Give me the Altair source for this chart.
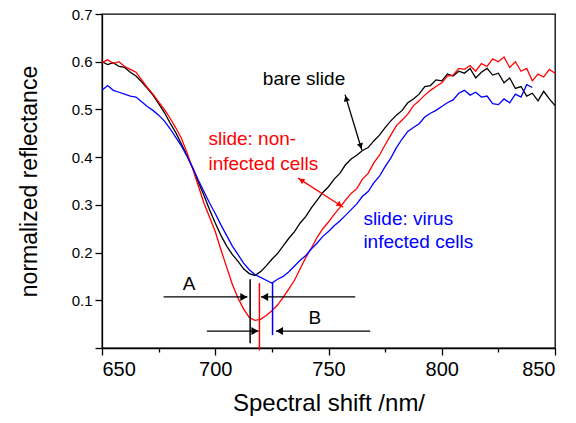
import altair as alt
import pandas as pd

# ---- spectra (every 2.5 nm) ----
wavelength = [650 + 2.5 * i for i in range(81)]
bare_slide = [0.600, 0.594, 0.598, 0.590, 0.588, 0.578, 0.570, 0.558, 0.544, 0.530,
              0.512, 0.494, 0.472, 0.452, 0.428, 0.404, 0.378, 0.348, 0.320, 0.290,
              0.262, 0.236, 0.214, 0.196, 0.182, 0.166, 0.156, 0.152, 0.160, 0.172,
              0.186, 0.198, 0.214, 0.230, 0.244, 0.262, 0.276, 0.294, 0.310, 0.326,
              0.338, 0.354, 0.366, 0.384, 0.396, 0.404, 0.414, 0.420, 0.434, 0.446,
              0.462, 0.476, 0.488, 0.498, 0.514, 0.522, 0.532, 0.548, 0.550, 0.562,
              0.560, 0.574, 0.570, 0.580, 0.576, 0.586, 0.566, 0.578, 0.586, 0.572,
              0.576, 0.556, 0.566, 0.544, 0.548, 0.528, 0.534, 0.518, 0.538, 0.522, 0.508]
non_infected = [0.598, 0.604, 0.596, 0.600, 0.590, 0.584, 0.578, 0.562, 0.546, 0.532,
                0.516, 0.500, 0.482, 0.462, 0.440, 0.410, 0.376, 0.340, 0.304, 0.274,
                0.244, 0.206, 0.170, 0.134, 0.105, 0.082, 0.064, 0.058, 0.060, 0.068,
                0.078, 0.090, 0.106, 0.124, 0.142, 0.166, 0.190, 0.210, 0.232, 0.250,
                0.264, 0.280, 0.294, 0.310, 0.324, 0.334, 0.354, 0.366, 0.388, 0.404,
                0.426, 0.446, 0.466, 0.478, 0.490, 0.508, 0.518, 0.530, 0.540, 0.548,
                0.556, 0.570, 0.572, 0.586, 0.584, 0.592, 0.580, 0.596, 0.590, 0.606,
                0.600, 0.610, 0.588, 0.600, 0.580, 0.586, 0.560, 0.574, 0.568, 0.584, 0.576]
virus_wl = [650 + 2.5 * i for i in range(77)]
virus_infected = [0.540, 0.550, 0.540, 0.536, 0.532, 0.528, 0.526, 0.516, 0.506, 0.498,
                  0.488, 0.476, 0.460, 0.442, 0.424, 0.402, 0.378, 0.352, 0.328, 0.304,
                  0.282, 0.258, 0.236, 0.214, 0.196, 0.178, 0.164, 0.154, 0.148, 0.142,
                  0.136, 0.144, 0.150, 0.160, 0.172, 0.184, 0.194, 0.208, 0.220, 0.234,
                  0.244, 0.256, 0.266, 0.278, 0.290, 0.302, 0.318, 0.328, 0.346, 0.360,
                  0.380, 0.398, 0.420, 0.438, 0.454, 0.462, 0.470, 0.484, 0.492, 0.498,
                  0.506, 0.514, 0.520, 0.534, 0.540, 0.530, 0.536, 0.526, 0.528, 0.512,
                  0.510, 0.522, 0.514, 0.532, 0.526, 0.552, 0.546]

series_names = ["bare slide", "non-infected", "virus infected"]
series_colors = ["#000000", "#ff0000", "#0000ff"]

# ---- annotation data (data units) ----
vline_x = [715.4, 719.5, 725.3]
vline_y1 = [0.010, -0.005, 0.027]
vline_y2 = [0.144, 0.136, 0.138]
vline_col = ["#000000", "#ff0000", "#0000ff"]

shaft_x1 = [677.2, 761.8, 696.3, 768.4, 757.3, 736.6]
shaft_x2 = [714.2, 720.2, 719.1, 726.8, 764.7, 756.5]
shaft_y1 = [0.107, 0.107, 0.0355, 0.0355, 0.531, 0.356]
shaft_y2 = [0.107, 0.107, 0.0355, 0.0355, 0.415, 0.295]
shaft_col = ["#000000", "#000000", "#000000", "#000000", "#000000", "#ff0000"]

head_x = [712.6, 721.8, 717.5, 728.4, 757.8, 764.2, 738.0, 755.0]
head_y = [0.107, 0.107, 0.0355, 0.0355, 0.523, 0.423, 0.3517, 0.300]
head_angle = [90, 270, 90, 270, 343, 163, 303, 123]
head_size = [65, 65, 65, 65, 40, 40, 40, 40]
head_col = ["#000000"] * 6 + ["#ff0000"] * 2

label_text = ["bare slide", "slide: non-", "infected cells", "slide: virus", "infected cells", "A", "B"]
label_x = [721.0, 697.0, 697.0, 765.4, 765.4, 688.4, 744.0]
label_y = [0.552, 0.4256, 0.373, 0.2576, 0.2086, 0.1225, 0.051]
label_col = ["#000000", "#ff0000", "#ff0000", "#0000ff", "#0000ff", "#000000", "#000000"]
label_align = ["left", "left", "left", "left", "left", "center", "center"]

FONT = "Liberation Sans"

rows = []
for w, v in zip(wavelength, bare_slide):
    rows.append({"nm": w, "r": v, "series": series_names[0]})
for w, v in zip(wavelength, non_infected):
    rows.append({"nm": w, "r": v, "series": series_names[1]})
for w, v in zip(virus_wl, virus_infected):
    rows.append({"nm": w, "r": v, "series": series_names[2]})
df = pd.DataFrame(rows)

xscale = alt.Scale(domain=[650, 850], nice=False, zero=False)
yscale = alt.Scale(domain=[0, 0.7], nice=False)

xaxis = alt.Axis(
    values=list(range(650, 851, 25)),
    labelExpr="datum.value % 50 == 0 ? format(datum.value, 'd') : ''",
    tickSize={"condition": {"test": "datum.value % 50 == 0", "value": 7}, "value": 4},
    grid=False, domainColor="black", tickColor="black", domainWidth=1.3, tickWidth=1.3,
    labelFontSize=20, labelColor="black", labelFont=FONT, labelPadding=4,
    title="Spectral shift /nm/", titleFontSize=24, titleFontWeight="normal",
    titleColor="black", titleFont=FONT, titlePadding=12,
)
yvals = [round(i * 0.05, 2) for i in range(0, 15)]
yaxis = alt.Axis(
    values=yvals,
    labelExpr="(round(datum.value*100) % 10 == 0 && datum.value > 0.01) ? format(datum.value, '.1f') : ''",
    tickSize={"condition": {"test": "round(datum.value*100) % 10 == 0", "value": 7}, "value": 4},
    grid=False, domainColor="black", tickColor="black", domainWidth=1.3, tickWidth=1.3,
    labelFontSize=15, labelColor="black", labelFont=FONT, labelPadding=3,
    title="normalized reflectance", titleFontSize=23, titleFontWeight="normal",
    titleColor="black", titleFont=FONT, titlePadding=30,
)

lines = alt.Chart(df).mark_line(strokeWidth=1.3).encode(
    x=alt.X("nm:Q", scale=xscale, axis=xaxis),
    y=alt.Y("r:Q", scale=yscale, axis=yaxis),
    color=alt.Color("series:N", scale=alt.Scale(domain=series_names, range=series_colors), legend=None),
)

vdf = pd.DataFrame({"x": vline_x, "y1": vline_y1, "y2": vline_y2, "c": vline_col})
vlines = alt.Chart(vdf).mark_rule(strokeWidth=1.5).encode(
    x=alt.X("x:Q", scale=xscale), y=alt.Y("y1:Q", scale=yscale), y2="y2:Q",
    color=alt.Color("c:N", scale=None),
)

sdf = pd.DataFrame({"x1": shaft_x1, "x2": shaft_x2, "y1": shaft_y1, "y2": shaft_y2, "c": shaft_col})
shafts = alt.Chart(sdf).mark_rule(strokeWidth=1.3).encode(
    x=alt.X("x1:Q", scale=xscale), x2="x2:Q",
    y=alt.Y("y1:Q", scale=yscale), y2="y2:Q",
    color=alt.Color("c:N", scale=None),
)

hdf = pd.DataFrame({"x": head_x, "y": head_y, "a": head_angle, "s": head_size, "c": head_col})
heads = alt.Chart(hdf).mark_point(shape="triangle-up", filled=True, opacity=1).encode(
    x=alt.X("x:Q", scale=xscale), y=alt.Y("y:Q", scale=yscale),
    angle=alt.Angle("a:Q", scale=None),
    size=alt.Size("s:Q", scale=None),
    color=alt.Color("c:N", scale=None),
)

ldf = pd.DataFrame({"t": label_text, "x": label_x, "y": label_y, "c": label_col, "al": label_align})
texts_left = alt.Chart(ldf[ldf["al"] == "left"]).mark_text(
    align="left", baseline="alphabetic", fontSize=19, font=FONT
).encode(
    x=alt.X("x:Q", scale=xscale), y=alt.Y("y:Q", scale=yscale), text="t:N",
    color=alt.Color("c:N", scale=None),
)
texts_center = alt.Chart(ldf[ldf["al"] == "center"]).mark_text(
    align="center", baseline="alphabetic", fontSize=19, font=FONT
).encode(
    x=alt.X("x:Q", scale=xscale), y=alt.Y("y:Q", scale=yscale), text="t:N",
    color=alt.Color("c:N", scale=None),
)

chart = alt.layer(lines, vlines, shafts, heads, texts_left, texts_center).properties(
    width=453, height=334,
    autosize=alt.AutoSizeParams(type="none"),
    padding={"left": 102, "top": 14, "right": 21, "bottom": 75},
    background="white",
).configure_view(stroke="black", strokeWidth=1.3)

chart.save("out.html", embed_options={"renderer": "svg", "actions": False})
